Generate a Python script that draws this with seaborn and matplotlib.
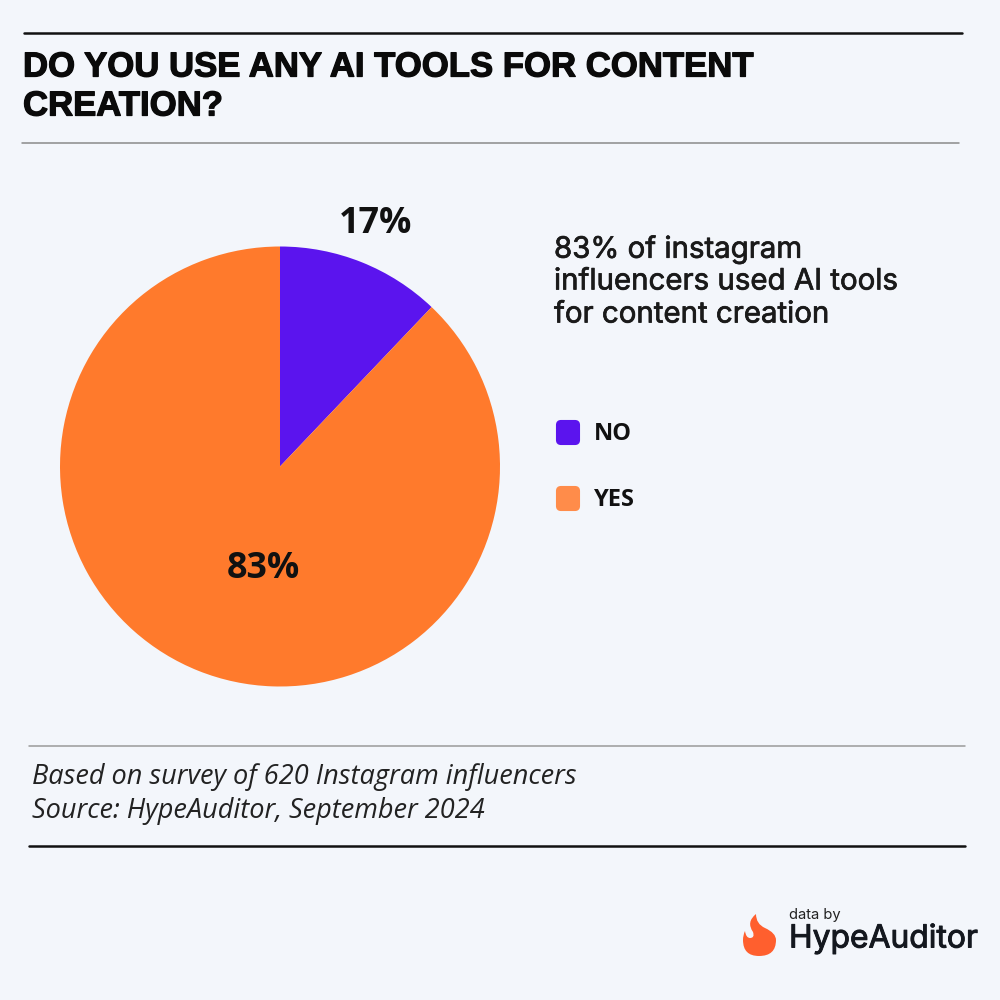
import matplotlib
matplotlib.use('Agg')
import matplotlib.pyplot as plt
import matplotlib.patheffects as pe
from matplotlib.patches import FancyBboxPatch, PathPatch
from matplotlib.path import Path
import seaborn as sns

# slice sizes as drawn in the picture, labels as printed on it
categories = ['NO', 'YES']
drawn_shares = [12.1, 87.9]
printed_labels = ['17%', '83%']
slice_colors = ['#5B14EE', '#FF7A2C']
legend_colors = ['#5B14EE', '#FF8C4A']

title_lines = ['DO YOU USE ANY AI TOOLS FOR CONTENT', 'CREATION?']
note_lines = ['83% of instagram', 'influencers used AI tools', 'for content creation']
source_lines = ['Based on survey of 620 Instagram influencers', 'Source: HypeAuditor, September 2024']

bg = '#F3F6FB'
sns.set_theme(style='white')
plt.rcParams['font.family'] = ['Open Sans', 'DejaVu Sans']

fig = plt.figure(figsize=(10, 10), dpi=100, facecolor=bg)

# page layer in pixel coordinates
page = fig.add_axes([0, 0, 1, 1])
page.set_xlim(0, 1000)
page.set_ylim(1000, 0)
page.axis('off')

page.plot([24, 962], [33, 33], color='#111111', lw=1.8)
page.plot([22, 959], [143, 143], color='#8a8a8a', lw=1.1)
page.plot([29, 965], [746, 746], color='#9a9a9a', lw=1.1)
page.plot([29, 965], [846, 846], color='#111111', lw=1.8)

for line, y in zip(title_lines, [67, 106]):
    t = page.text(23, y, line, fontsize=25, fontweight='bold', family=['Liberation Sans', 'DejaVu Sans'],
                  color='#0a0a0a', va='center', ha='left')
    t.set_path_effects([pe.withStroke(linewidth=0.9, foreground='#0a0a0a')])

for line, y in zip(note_lines, [250, 282, 315]):
    t = page.text(554, y, line, fontsize=21.2, family=['Inter', 'DejaVu Sans'],
                  color='#1a1a1a', va='center', ha='left')
    t.set_path_effects([pe.withStroke(linewidth=0.5, foreground='#1a1a1a')])

for cat, col, y in zip(categories, legend_colors, [432, 498]):
    page.add_patch(FancyBboxPatch((557, y - 11), 22, 23, boxstyle='round,pad=0,rounding_size=4',
                                  mutation_aspect=1, fc=col, ec=col, lw=1.5))
    page.text(594, y + 2, cat, fontsize=17, fontweight='bold', color='#111111', va='center', ha='left')

for line, y in zip(source_lines, [777, 811]):
    page.text(32, y, line, fontsize=19.5, style='italic', family=['Open Sans', 'DejaVu Sans'],
              color='#222222', va='center', ha='left')

# flame logo
flame_verts = [(756, 914), (756, 924), (765, 928), (776, 933), (776, 940), (776, 956), (759, 956),
               (743, 956), (743, 940), (743, 935), (745, 931), (746, 938), (750, 938),
               (755, 938), (753, 932), (746, 922), (756, 914)]
flame_codes = [Path.MOVETO] + [Path.CURVE3] * 16
page.add_patch(PathPatch(Path(flame_verts, flame_codes), fc='#FF5F2E', ec='none'))
page.text(789, 915, 'data by', fontsize=10.6, family=['Inter', 'DejaVu Sans'],
          color='#222222', va='center', ha='left')
t = page.text(789, 939, 'HypeAuditor', fontsize=22.9, family=['Inter', 'DejaVu Sans'],
              color='#14181f', va='center', ha='left')
t.set_path_effects([pe.withStroke(linewidth=0.7, foreground='#14181f')])

# pie
ax = fig.add_axes([0.06, 0.3135, 0.44, 0.44])
ax.pie(drawn_shares, colors=slice_colors, startangle=90, counterclock=False, radius=1,
       wedgeprops={'linewidth': 0, 'edgecolor': 'none'})
ax.set_xlim(-1, 1)
ax.set_ylim(-1, 1)

page.set_zorder(2)
page.patch.set_alpha(0)
page.text(376, 224, printed_labels[0], fontsize=25.8, fontweight='bold', color='#111111', va='center', ha='center')
page.text(263, 569, printed_labels[1], fontsize=25.8, fontweight='bold', color='#111111', va='center', ha='center')

fig.savefig('out.png', dpi=100, facecolor=bg)
